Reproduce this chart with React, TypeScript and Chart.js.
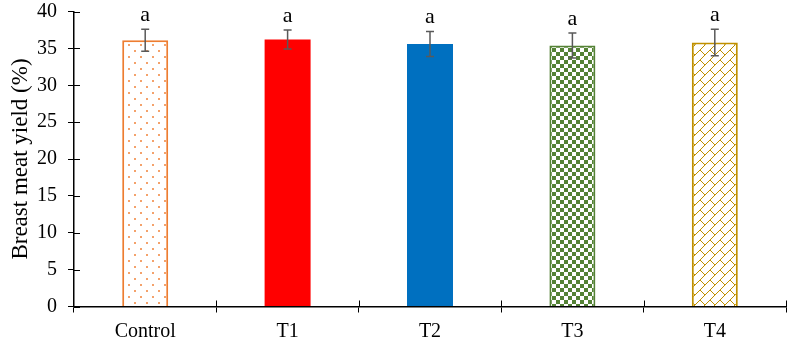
import React, { useEffect, useRef } from "react";
import { Chart, registerables } from "chart.js";

Chart.register(...registerables);

const categories = ["Control", "T1", "T2", "T3", "T4"];
const yieldValues = [36.1, 36.2, 35.6, 35.4, 35.8];
const errorValues = [1.5, 1.3, 1.7, 1.7, 1.8];
const letters = ["a", "a", "a", "a", "a"];
const yTicks = [0, 5, 10, 15, 20, 25, 30, 35, 40];

const FONT = "'Liberation Serif', 'Times New Roman', serif";

function makeTile(size: number, draw: (c: CanvasRenderingContext2D) => void) {
  const cv = document.createElement("canvas");
  cv.width = size;
  cv.height = size;
  const c = cv.getContext("2d")!;
  c.fillStyle = "#ffffff";
  c.fillRect(0, 0, size, size);
  draw(c);
  return c.createPattern(cv, "repeat")!;
}

function dotPattern() {
  return makeTile(12, (c) => {
    c.fillStyle = "#F4A26B";
    c.fillRect(2, 2, 2, 2);
    c.fillRect(8, 8, 2, 2);
  });
}

function checkPattern() {
  return makeTile(8, (c) => {
    c.fillStyle = "#548235";
    c.fillRect(0, 0, 4, 4);
    c.fillRect(4, 4, 4, 4);
  });
}

function brickPattern() {
  return makeTile(10, (c) => {
    c.strokeStyle = "#BF9000";
    c.lineWidth = 1;
    c.beginPath();
    c.moveTo(-1, 11);
    c.lineTo(11, -1);
    c.moveTo(0, 0);
    c.lineTo(5, 5);
    c.stroke();
  });
}

const errorBarPlugin = {
  id: "errorBars",
  afterDatasetsDraw(chart: any) {
    const ctx = chart.ctx;
    const meta = chart.getDatasetMeta(0);
    const ys = chart.scales.y;
    ctx.save();
    meta.data.forEach((bar: any, i: number) => {
      const x = bar.x;
      const top = ys.getPixelForValue(yieldValues[i] + errorValues[i]);
      const bot = ys.getPixelForValue(yieldValues[i] - errorValues[i]);
      ctx.strokeStyle = "#595959";
      ctx.lineWidth = 1.5;
      ctx.beginPath();
      ctx.moveTo(x, top);
      ctx.lineTo(x, bot);
      ctx.moveTo(x - 4, top);
      ctx.lineTo(x + 4, top);
      ctx.moveTo(x - 4, bot);
      ctx.lineTo(x + 4, bot);
      ctx.stroke();
      ctx.fillStyle = "#000000";
      ctx.font = `22px ${FONT}`;
      ctx.textAlign = "center";
      ctx.textBaseline = "alphabetic";
      ctx.fillText(letters[i], x, top - 8);
    });
    ctx.restore();
  },
};

const innerTicksPlugin = {
  id: "innerTicks",
  afterDraw(chart: any) {
    const ctx = chart.ctx;
    const { y } = chart.scales;
    const area = chart.chartArea;
    ctx.save();
    ctx.strokeStyle = "#000000";
    ctx.lineWidth = 1;
    ctx.beginPath();
    y.ticks.forEach((_t: any, i: number) => {
      const py = Math.round(y.getPixelForTick(i)) + 0.5;
      ctx.moveTo(area.left, py);
      ctx.lineTo(area.left + 6, py);
    });
    for (let i = 1; i <= categories.length; i++) {
      const px = Math.round(area.left + ((area.right - area.left) * i) / categories.length) + 0.5;
      ctx.moveTo(px, area.bottom);
      ctx.lineTo(px, area.bottom - 6);
    }
    ctx.stroke();
    ctx.restore();
  },
};

export default function App() {
  const ref = useRef<HTMLCanvasElement | null>(null);
  useEffect(() => {
    if (!ref.current) return;
    const fills = [dotPattern(), "#FF0000", "#0070C0", checkPattern(), brickPattern()];
    const borders = ["#ED7D31", "#FF0000", "#0070C0", "#548235", "#BF9000"];
    const chart = new Chart(ref.current, {
      type: "bar",
      data: {
        labels: categories,
        datasets: [
          {
            data: yieldValues,
            backgroundColor: fills as any,
            borderColor: borders,
            borderWidth: [2, 0, 0, 2, 2],
            categoryPercentage: 1,
            barPercentage: 0.323,
          },
        ],
      },
      options: {
        animation: false,
        responsive: false,
        layout: { padding: { top: 11.5, right: 14, left: 0, bottom: 0 } },
        plugins: { legend: { display: false }, tooltip: { enabled: false } },
        scales: {
          x: {
            grid: {
              display: true,
              drawOnChartArea: false,
              offset: true,
              tickLength: 6,
              color: "#000000",
            },
            border: { color: "#000000", width: 1.5 },
            ticks: { color: "#000000", font: { family: FONT, size: 20 }, padding: 7 },
            afterFit: (s: any) => {
              s.height = 55.5;
              s.paddingLeft = 0;
              s.paddingRight = 0;
            },
          },
          y: {
            min: 0,
            max: 40,
            afterBuildTicks: (s: any) => {
              s.ticks = yTicks.map((v) => ({ value: v }));
            },
            grid: {
              display: true,
              drawOnChartArea: false,
              tickLength: 6,
              color: "#000000",
            },
            border: { color: "#000000", width: 1.5 },
            ticks: { color: "#000000", font: { family: FONT, size: 20 }, padding: 11 },
            title: {
              display: true,
              text: "Breast meat yield (%)",
              color: "#000000",
              font: { family: FONT, size: 23 },
              padding: { top: 7, bottom: 0 },
            },
            afterFit: (s: any) => {
              s.width = 74;
              s.paddingTop = 0;
              s.paddingBottom = 0;
            },
          },
        },
      },
      plugins: [errorBarPlugin, innerTicksPlugin],
    });
    return () => chart.destroy();
  }, []);
  return (
    <div style={{ position: "fixed", left: 0, top: 0, width: 800, height: 362, background: "#fff" }}>
      <canvas ref={ref} width={800} height={362} />
    </div>
  );
}
